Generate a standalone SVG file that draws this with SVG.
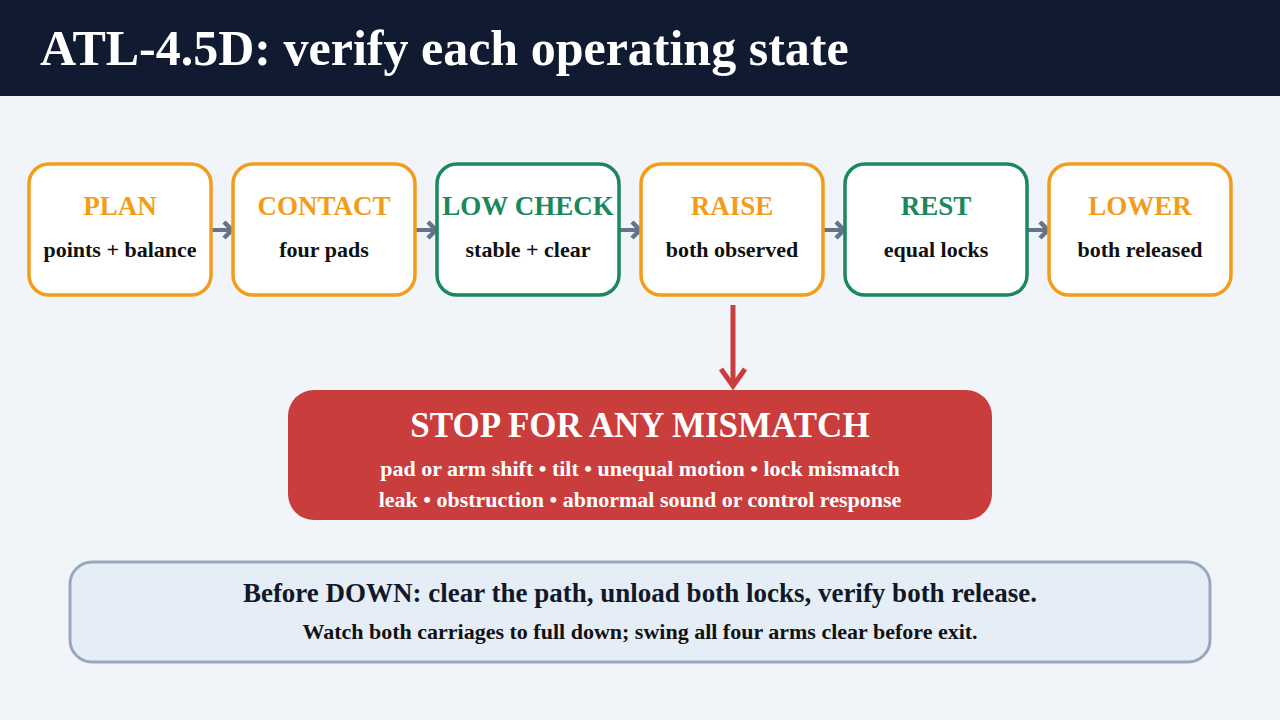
<svg xmlns="http://www.w3.org/2000/svg" width="1280" height="720" viewBox="0 0 1280 720">
<defs>
<style>
.bg{fill:#F1F5FA}
.hdr{fill:#101B31}
.title{font-family:"Liberation Serif",serif;font-weight:bold;font-size:50px;fill:#FFFFFF}
.box{fill:#FFFFFF;stroke-width:3.5}
.or{stroke:#F39C1A}
.gr{stroke:#1A875C}
.nt{font-family:"Liberation Serif",serif;font-weight:bold;font-size:27px;text-anchor:middle}
.nto{fill:#F39C1A}
.ntg{fill:#1A875C}
.ns{font-family:"Liberation Serif",serif;font-weight:bold;font-size:22px;text-anchor:middle;fill:#111111}
.conn{stroke:#64748B;stroke-width:4;fill:none}
.stop{fill:#C93D3D}
.st{font-family:"Liberation Serif",serif;font-weight:bold;font-size:35px;text-anchor:middle;fill:#FFFFFF}
.ss{font-family:"Liberation Serif",serif;font-weight:bold;font-size:22px;text-anchor:middle;fill:#FFFFFF}
.note{fill:#E5EDF7;stroke:#9AA8BF;stroke-width:3}
.n1{font-family:"Liberation Serif",serif;font-weight:bold;font-size:27px;text-anchor:middle;fill:#111827}
.n2{font-family:"Liberation Serif",serif;font-weight:bold;font-size:22px;text-anchor:middle;fill:#111111}
</style>
<marker id="ag" viewBox="0 0 24 24" refX="20" refY="12" markerWidth="24" markerHeight="24" orient="auto" markerUnits="userSpaceOnUse">
<path d="M12,4 L20,12 L12,20" fill="none" stroke="#64748B" stroke-width="4.5" stroke-linejoin="miter"/>
</marker>
<marker id="ar" viewBox="0 0 30 30" refX="26" refY="15" markerWidth="30" markerHeight="30" orient="auto" markerUnits="userSpaceOnUse">
<path d="M9,3 L26,15 L9,27" fill="none" stroke="#C93D3D" stroke-width="5"/>
</marker>
</defs>
<rect class="bg" x="0" y="0" width="1280" height="720"/>
<g id="header">
<rect class="hdr" x="0" y="0" width="1280" height="96"/>
<text class="title" x="40" y="65">ATL-4.5D: verify each operating state</text>
</g>
<g id="connectors">
<line class="conn" x1="211" y1="230" x2="232" y2="230" marker-end="url(#ag)"/>
<line class="conn" x1="415" y1="230" x2="436" y2="230" marker-end="url(#ag)"/>
<line class="conn" x1="619" y1="230" x2="640" y2="230" marker-end="url(#ag)"/>
<line class="conn" x1="823" y1="230" x2="844" y2="230" marker-end="url(#ag)"/>
<line class="conn" x1="1027" y1="230" x2="1048" y2="230" marker-end="url(#ag)"/>
<line x1="733" y1="305" x2="733" y2="386" stroke="#C93D3D" stroke-width="5" fill="none" marker-end="url(#ar)"/>
</g>
<g id="plan">
<rect class="box or" x="29" y="164" width="182" height="131" rx="20"/>
<text class="nt nto" x="120" y="215">PLAN</text>
<text class="ns" x="120" y="257">points + balance</text>
</g>
<g id="contact">
<rect class="box or" x="233" y="164" width="182" height="131" rx="20"/>
<text class="nt nto" x="324" y="215">CONTACT</text>
<text class="ns" x="324" y="257">four pads</text>
</g>
<g id="lowcheck">
<rect class="box gr" x="437" y="164" width="182" height="131" rx="20"/>
<text class="nt ntg" x="528" y="215">LOW CHECK</text>
<text class="ns" x="528" y="257">stable + clear</text>
</g>
<g id="raise">
<rect class="box or" x="641" y="164" width="182" height="131" rx="20"/>
<text class="nt nto" x="732" y="215">RAISE</text>
<text class="ns" x="732" y="257">both observed</text>
</g>
<g id="rest">
<rect class="box gr" x="845" y="164" width="182" height="131" rx="20"/>
<text class="nt ntg" x="936" y="215">REST</text>
<text class="ns" x="936" y="257">equal locks</text>
</g>
<g id="lower">
<rect class="box or" x="1049" y="164" width="182" height="131" rx="20"/>
<text class="nt nto" x="1140" y="215">LOWER</text>
<text class="ns" x="1140" y="257">both released</text>
</g>
<g id="stop">
<rect class="stop" x="288" y="390" width="704" height="130" rx="26"/>
<text class="st" x="640" y="437">STOP FOR ANY MISMATCH</text>
<text class="ss" x="640" y="476">pad or arm shift • tilt • unequal motion • lock mismatch</text>
<text class="ss" x="640" y="507">leak • obstruction • abnormal sound or control response</text>
</g>
<g id="note">
<rect class="note" x="70" y="562" width="1140" height="100" rx="22"/>
<text class="n1" x="640" y="602">Before DOWN: clear the path, unload both locks, verify both release.</text>
<text class="n2" x="640" y="639">Watch both carriages to full down; swing all four arms clear before exit.</text>
</g>
</svg>
